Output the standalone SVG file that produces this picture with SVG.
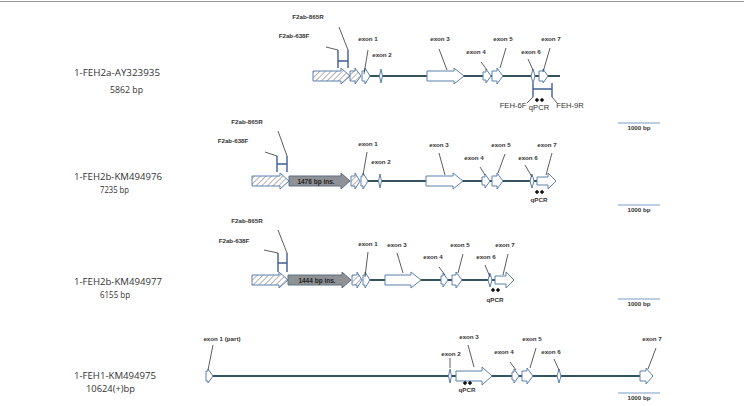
<svg xmlns="http://www.w3.org/2000/svg" width="744" height="406" viewBox="0 0 744 406">
<defs>
<pattern id="hatch" patternUnits="userSpaceOnUse" width="4" height="4" patternTransform="rotate(45)">
<rect width="4" height="4" fill="#fff"/>
<line x1="0" y1="0" x2="0" y2="4" stroke="#a0a0a0" stroke-width="1.6"/>
</pattern>
</defs>
<style>
.bb{stroke:#35525f;stroke-width:2;fill:none}
.ex{fill:#fff;stroke:#5a80b0;stroke-width:1}
.ht{fill:url(#hatch);stroke:#5a80b0;stroke-width:1}
.gr{fill:#8e9296;stroke:#5e6f80;stroke-width:1}
.pr{stroke:#3f5f93;stroke-width:1.4;fill:none}
.ld{stroke:#333;stroke-width:0.8;fill:none}
.sc{stroke:#7d9cc8;stroke-width:1.2}
.dm{fill:#111}
.lb{font-family:"Liberation Sans",Arial,sans-serif;font-weight:bold;font-size:6.2px;fill:#333;text-anchor:middle}
.lb2{font-family:"Liberation Sans",Arial,sans-serif;font-size:7.6px;fill:#333;text-anchor:middle}
.ins{font-family:"Liberation Sans",Arial,sans-serif;font-weight:bold;font-size:6.5px;fill:#222;text-anchor:middle}
.nm{font-family:"Open Sans","Noto Sans",sans-serif;font-size:9px;fill:#333}
</style>
<line x1="0" y1="1.5" x2="744" y2="1.5" stroke="#999" stroke-width="1"/>

<g id="row1">
<text class="nm" x="74" y="76" textLength="86" lengthAdjust="spacingAndGlyphs">1-FEH2a-AY323935</text>
<text class="nm" x="110" y="93" textLength="33" lengthAdjust="spacingAndGlyphs">5862 bp</text>
<line class="bb" x1="368" y1="76" x2="560" y2="76"/>
<path class="ht" d="M313,71 H341 V68 L350,76 L341,84 V81 H313 Z"/>
<path class="ht" d="M350,71 H355 V68 L361,76 L355,84 V81 H350 Z"/>
<path class="ex" d="M362,71 H365 V68 L370,76 L365,84 V81 H362 Z"/>
<path class="ex" d="M381,69 L382.5,76 L381,83 L379.5,76 Z"/>
<path class="ex" d="M427,71 H454 V68 L464,76 L454,84 V81 H427 Z"/>
<path class="ex" d="M483,72 H486 V69 L491,76 L486,83 V80 H483 Z"/>
<path class="ex" d="M492,71 H497 V68 L503,76 L497,84 V81 H492 Z"/>
<path class="ex" d="M533,69 L535,76 L533,83 L531,76 Z"/>
<path class="ex" d="M539,71 H543 V69 L548,76 L543,83 V81 H539 Z"/>
<path class="pr" d="M338,50 V68 M348,50 V68 M338,61 H348"/>
<path class="pr" d="M533,83 V97 M552,83 V97 M533,89 H552"/>
<path class="dm" d="M537,97.8 L539.2,100 L537,102.2 L534.8,100 Z M542,97.8 L544.2,100 L542,102.2 L539.8,100 Z"/>
<text class="lb" x="308" y="19">F2ab-865R</text>
<text class="lb" x="294" y="38">F2ab-638F</text>
<text class="lb" x="368" y="41">exon 1</text>
<text class="lb" x="382" y="57">exon 2</text>
<text class="lb" x="440" y="41">exon 3</text>
<text class="lb" x="476" y="54">exon 4</text>
<text class="lb" x="503" y="41">exon 5</text>
<text class="lb" x="531" y="54">exon 6</text>
<text class="lb" x="551" y="41">exon 7</text>
<text class="lb2" x="513" y="108">FEH-6F</text>
<text class="lb2" x="539" y="110">qPCR</text>
<text class="lb2" x="570" y="108">FEH-9R</text>
<line class="sc" x1="618" y1="123" x2="660" y2="123"/>
<text class="lb" x="639" y="130">1000 bp</text>
</g>

<g id="row2">
<text class="nm" x="74" y="180" textLength="88" lengthAdjust="spacingAndGlyphs">1-FEH2b-KM494976</text>
<text class="nm" x="100" y="193" textLength="29" lengthAdjust="spacingAndGlyphs">7235 bp</text>
<line class="bb" x1="366" y1="181" x2="538" y2="181"/>
<path class="ht" d="M252,176 H280 V173 L289,181 L280,189 V186 H252 Z"/>
<path class="gr" d="M289,176 H341 V173 L350,181 L341,189 V186 H289 Z"/>
<text class="ins" x="316" y="183.5">1476 bp ins.</text>
<path class="ht" d="M351,176 H355 V173 L360,181 L355,189 V186 H351 Z"/>
<path class="ex" d="M361,176 H363 V173 L368,181 L363,189 V186 H361 Z"/>
<path class="ex" d="M380,174 L381.5,181 L380,188 L378.5,181 Z"/>
<path class="ex" d="M426,176 H453 V173 L463,181 L453,189 V186 H426 Z"/>
<path class="ex" d="M482,177 H485 V174 L490,181 L485,188 V185 H482 Z"/>
<path class="ex" d="M492,176 H497 V173 L503,181 L497,189 V186 H492 Z"/>
<path class="ex" d="M532,174 L534,181 L532,188 L530,181 Z"/>
<path class="ex" d="M537,177 H548 V173 L556,181 L548,189 V185 H537 Z"/>
<path class="pr" d="M277,156 V172 M287,156 V172 M277,164 H287"/>
<path class="dm" d="M537,189.8 L539.2,192 L537,194.2 L534.8,192 Z M542,189.8 L544.2,192 L542,194.2 L539.8,192 Z"/>
<text class="lb" x="247" y="124">F2ab-865R</text>
<text class="lb" x="233" y="143">F2ab-638F</text>
<text class="lb" x="368" y="146">exon 1</text>
<text class="lb" x="381" y="164">exon 2</text>
<text class="lb" x="439" y="147">exon 3</text>
<text class="lb" x="474" y="160">exon 4</text>
<text class="lb" x="501" y="147">exon 5</text>
<text class="lb" x="528" y="160">exon 6</text>
<text class="lb" x="547" y="147">exon 7</text>
<text class="lb" x="539" y="202">qPCR</text>
<line class="sc" x1="618" y1="205" x2="660" y2="205"/>
<text class="lb" x="639" y="212">1000 bp</text>
</g>

<g id="row3">
<text class="nm" x="74" y="285" textLength="88" lengthAdjust="spacingAndGlyphs">1-FEH2b-KM494977</text>
<text class="nm" x="100" y="297.5" textLength="30" lengthAdjust="spacingAndGlyphs">6155 bp</text>
<line class="bb" x1="368" y1="280" x2="496" y2="280"/>
<path class="ht" d="M252,275 H279 V272 L288,280 L279,288 V285 H252 Z"/>
<path class="gr" d="M288,275 H342 V272 L351,280 L342,288 V285 H288 Z"/>
<text class="ins" x="317" y="282.5">1444 bp ins.</text>
<path class="ht" d="M352,275 H357 V272 L362,280 L357,288 V285 H352 Z"/>
<path class="ex" d="M363,275 H365 V272 L370,280 L365,288 V285 H363 Z"/>
<path class="ex" d="M385,275 H411 V272 L421,280 L411,288 V285 H385 Z"/>
<path class="ex" d="M441,276 H443 V273 L448,280 L443,287 V284 H441 Z"/>
<path class="ex" d="M452,275 H456 V272 L462,280 L456,288 V285 H452 Z"/>
<path class="ex" d="M490,273 L492,280 L490,287 L488,280 Z"/>
<path class="ex" d="M495,276 H506 V272 L514,280 L506,288 V284 H495 Z"/>
<path class="pr" d="M278,253 V272 M287,253 V272 M278,263 H287"/>
<path class="dm" d="M493,287.8 L495.2,290 L493,292.2 L490.8,290 Z M498,287.8 L500.2,290 L498,292.2 L495.8,290 Z"/>
<text class="lb" x="247" y="223">F2ab-865R</text>
<text class="lb" x="234" y="243">F2ab-638F</text>
<text class="lb" x="368" y="246">exon 1</text>
<text class="lb" x="397" y="247">exon 3</text>
<text class="lb" x="433" y="259">exon 4</text>
<text class="lb" x="460" y="247">exon 5</text>
<text class="lb" x="486" y="259">exon 6</text>
<text class="lb" x="505" y="247">exon 7</text>
<text class="lb" x="495" y="302">qPCR</text>
<line class="sc" x1="618" y1="299" x2="660" y2="299"/>
<text class="lb" x="639" y="306">1000 bp</text>
</g>

<g id="row4">
<text class="nm" x="74" y="378.5" textLength="82" lengthAdjust="spacingAndGlyphs">1-FEH1-KM494975</text>
<text class="nm" x="86" y="392" textLength="49" lengthAdjust="spacingAndGlyphs">10624(+)bp</text>
<line class="bb" x1="212" y1="376" x2="641" y2="376"/>
<path class="ex" d="M206,371 H208 V369 L213,376 L208,383 V381 H206 Z"/>
<path class="ex" d="M450,369 L451.5,376 L450,383 L448.5,376 Z"/>
<path class="ex" d="M456,371 H482 V367 L492,376 L482,385 V381 H456 Z"/>
<path class="ex" d="M512,372 H514 V369 L519,376 L514,383 V380 H512 Z"/>
<path class="ex" d="M522,371 H527 V368 L533,376 L527,384 V381 H522 Z"/>
<path class="ex" d="M559,369 L561,376 L559,383 L557,376 Z"/>
<path class="ex" d="M640,371 H646 V368 L653,376 L646,384 V381 H640 Z"/>
<path class="dm" d="M465,380.8 L467.2,383 L465,385.2 L462.8,383 Z M470,380.8 L472.2,383 L470,385.2 L467.8,383 Z"/>
<text class="lb" x="222" y="341">exon 1 (part)</text>
<text class="lb" x="451" y="356">exon 2</text>
<text class="lb" x="469" y="339">exon 3</text>
<text class="lb" x="504" y="354">exon 4</text>
<text class="lb" x="532" y="341">exon 5</text>
<text class="lb" x="551" y="354">exon 6</text>
<text class="lb" x="652" y="341">exon 7</text>
<text class="lb" x="467" y="392">qPCR</text>
<line class="sc" x1="618" y1="393" x2="660" y2="393"/>
<text class="lb" x="639" y="400">1000 bp</text>
</g>

<g id="connectors">
<path class="ld" d="M326,47 L338,50 M339,27 L348,50 M527,103 L533,97 M557,103 L552,97"/>
<path class="ld" d="M368,50 L364,74 M439,49 L447,70 M481,62 L487,70 M506,48 L500,68 M528,59 L533,70 M550,48 L543,72"/>
<path class="ld" d="M265,152 L277,156 M278,131 L287,156"/>
<path class="ld" d="M367,152 L363,175 M439,153 L445,175 M480,167 L485,175 M505,154 L498,173 M525,165 L532,177 M552,153 L546,175"/>
<path class="ld" d="M264,250 L278,253 M278,230 L287,253"/>
<path class="ld" d="M368,252 L365,277 M397,253 L403,273 M439,267 L445,275 M463,254 L458,273 M485,265 L490,277 M508,254 L503,275"/>
<path class="ld" d="M213,345 L208,370 M450,358 L450,368 M468,345 L474,367 M510,362 L516,370 M536,348 L530,368 M554,359 L559,370 M656,348 L648,369"/>
</g>
</svg>
